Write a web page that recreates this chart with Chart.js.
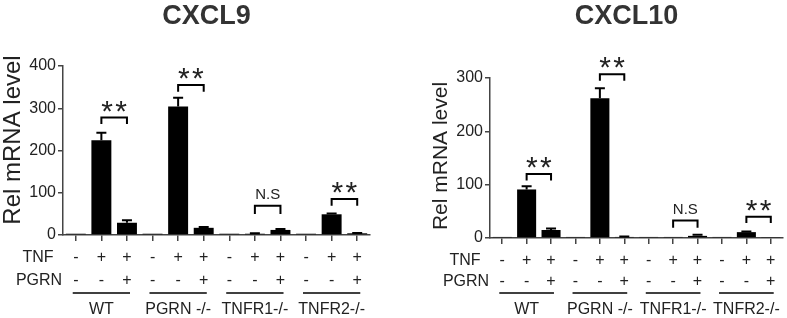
<!DOCTYPE html>
<html>
<head>
<meta charset="utf-8">
<script src="https://cdn.jsdelivr.net/npm/chart.js@4.4.1/dist/chart.umd.min.js"></script>
<style>
  html, body { margin: 0; padding: 0; background: #fff; }
  #left { position: absolute; left: 0; top: 0; width: 400px; height: 318px; }
  #right { position: absolute; left: 400px; top: 0; width: 387px; height: 318px; }
</style>
</head>
<body>
<div id="left"><canvas id="chart-cxcl9"></canvas></div>
<div id="right"><canvas id="chart-cxcl10"></canvas></div>
<script>
// conditions
const cats = ['wt-0', 'wt-tnf', 'wt-tnf-pgrn', 'ko-0', 'ko-tnf', 'ko-tnf-pgrn',
              'r1-0', 'r1-tnf', 'r1-tnf-pgrn', 'r2-0', 'r2-tnf', 'r2-tnf-pgrn'];
const tnf  = ['-', '+', '+', '-', '+', '+', '-', '+', '+', '-', '+', '+'];
const pgrn = ['-', '-', '+', '-', '-', '+', '-', '-', '+', '-', '-', '+'];
const groups = ['WT', 'PGRN -/-', 'TNFR1-/-', 'TNFR2-/-'];

// CXCL9
const cxcl9 = [3, 224, 29, 3, 304, 17, 3, 3, 12, 3, 49, 4];
const err9  = [0, 18, 6, 0, 21, 2, 0, 1, 2, 0, 2, 1];
const sig9 = ['**', '**', 'N.S', '**'];
const bracket9 = [278, 355, 69, 85];
const leg9 = [263, 339, 50, 69];

// CXCL10
const cxcl10 = [2, 91, 15, 2, 262, 2, 2, 2, 4, 2, 11, 1];
const err10  = [0, 6, 3, 0, 19, 1, 0, 0, 2, 0, 1, 0];
const sig10 = ['**', '**', 'N.S', '**'];
const bracket10 = [120, 307, 33, 40];
const leg10 = [108, 295, 19, 28];

const FONT = 'Arial, "Liberation Sans", sans-serif';
const INK = '#222';
const AXIS = '#444';

const marks = {
    id: 'marks',
    afterDraw(chart) {
        const o = chart.options.plugins.marks;
        const ctx = chart.ctx;
        const x = chart.scales.x, y = chart.scales.y;
        const area = chart.chartArea;
        const meta = chart.getDatasetMeta(0);
        const vals = chart.data.datasets[0].data;
        ctx.save();

        // error bars
        ctx.strokeStyle = '#000';
        ctx.lineWidth = 2;
        meta.data.forEach((bar, i) => {
            if (!o.err[i]) return;
            const yt = y.getPixelForValue(vals[i] + o.err[i]);
            ctx.beginPath();
            ctx.moveTo(bar.x, bar.y);
            ctx.lineTo(bar.x, yt);
            ctx.moveTo(bar.x - 5, yt);
            ctx.lineTo(bar.x + 5, yt);
            ctx.stroke();
        });

        // significance brackets
        o.sig.forEach((s, g) => {
            const x1 = x.getPixelForValue(g * 3 + 1);
            const x2 = x.getPixelForValue(g * 3 + 2);
            const yb = y.getPixelForValue(o.bracket[g]);
            const yl = y.getPixelForValue(o.leg[g]);
            ctx.beginPath();
            ctx.moveTo(x1, yl);
            ctx.lineTo(x1, yb);
            ctx.lineTo(x2, yb);
            ctx.lineTo(x2, yl);
            ctx.stroke();
            ctx.fillStyle = INK;
            ctx.textAlign = 'center';
            const cx = (x1 + x2) / 2;
            if (s === '**') {
                ctx.font = '30px ' + FONT;
                ctx.textBaseline = 'alphabetic';
                ctx.fillText('*', cx - 7, yb + 3);
                ctx.fillText('*', cx + 7, yb + 3);
            } else {
                ctx.font = '15px ' + FONT;
                ctx.textBaseline = 'middle';
                ctx.fillText(s, cx, yb - 11);
            }
        });

        // title
        ctx.fillStyle = '#333';
        ctx.font = 'bold 27px ' + FONT;
        ctx.textAlign = 'center';
        ctx.textBaseline = 'alphabetic';
        ctx.fillText(o.title, (area.left + area.right) / 2 - 10, 24);

        // y axis title
        ctx.fillStyle = INK;
        ctx.save();
        ctx.translate(o.yTitleX, o.yTitleY);
        ctx.rotate(-Math.PI / 2);
        ctx.font = o.yTitleSize + 'px ' + FONT;
        ctx.textBaseline = 'middle';
        ctx.fillText('Rel mRNA level', 0, 0);
        ctx.restore();

        // treatment rows
        ctx.font = '16px ' + FONT;
        ctx.textBaseline = 'middle';
        ctx.fillText('TNF', area.left - 25, o.rowTnf);
        ctx.fillText('PGRN', area.left - 24, o.rowPgrn);
        cats.forEach((c, i) => {
            const px = x.getPixelForValue(i);
            ctx.fillText(tnf[i], px, o.rowTnf);
            ctx.fillText(pgrn[i], px, o.rowPgrn);
        });

        // groups
        const step = x.getPixelForValue(1) - x.getPixelForValue(0);
        ctx.strokeStyle = '#000';
        ctx.lineWidth = 1.6;
        groups.forEach((gname, g) => {
            const cx = x.getPixelForValue(g * 3 + 1);
            ctx.beginPath();
            ctx.moveTo(cx - step * 1.12, 293);
            ctx.lineTo(cx + step * 1.12, 293);
            ctx.stroke();
            ctx.fillText(gname, cx, 310);
        });
        ctx.restore();
    }
};

function makeChart(id, values, opts) {
    return new Chart(document.getElementById(id), {
        type: 'bar',
        data: {
            labels: cats,
            datasets: [{
                data: values,
                backgroundColor: '#000',
                borderWidth: 0,
                barPercentage: 0.78,
                categoryPercentage: 1
            }]
        },
        options: {
            responsive: true,
            maintainAspectRatio: false,
            animation: false,
            layout: { padding: opts.padding },
            plugins: {
                legend: { display: false },
                tooltip: { enabled: false },
                marks: opts.marks
            },
            scales: {
                x: {
                    grid: { display: true, drawOnChartArea: false, offset: false, drawTicks: true, tickLength: 6, color: AXIS, lineWidth: 1.5 },
                    border: { display: true, color: AXIS, width: 1.5 },
                    ticks: { display: false },
                    afterFit(s) { s.height = 6; }
                },
                y: {
                    min: 0,
                    max: opts.max,
                    grid: { drawOnChartArea: false, drawTicks: true, tickLength: 5, color: AXIS, lineWidth: 1.5 },
                    border: { display: true, color: AXIS, width: 1.5 },
                    ticks: { stepSize: 100, color: INK, padding: 2, font: { family: FONT, size: 16 } },
                    afterFit(s) { s.width = opts.yWidth; }
                }
            }
        },
        plugins: [marks]
    });
}

makeChart('chart-cxcl9', cxcl9, {
    max: 400, yWidth: 63,
    padding: { left: 0, right: 30, top: 66, bottom: 77 },
    marks: { title: 'CXCL9', err: err9, sig: sig9, bracket: bracket9, leg: leg9, rowTnf: 258, rowPgrn: 281,
             yTitleX: 13, yTitleY: 140, yTitleSize: 24 }
});

makeChart('chart-cxcl10', cxcl10, {
    max: 300, yWidth: 61,
    padding: { left: 29, right: 4, top: 78, bottom: 74 },
    marks: { title: 'CXCL10', err: err10, sig: sig10, bracket: bracket10, leg: leg10, rowTnf: 261, rowPgrn: 282,
             yTitleX: 41, yTitleY: 156, yTitleSize: 21 }
});
</script>
</body>
</html>
